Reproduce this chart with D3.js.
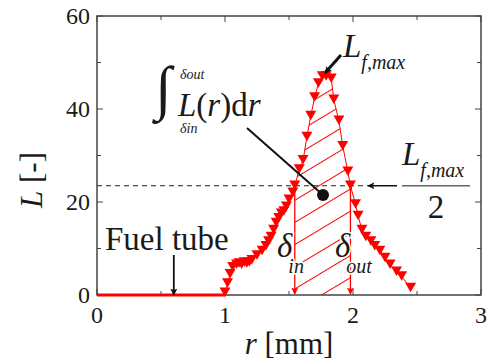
<!DOCTYPE html>
<html>
<head>
<meta charset="utf-8">
<script src="https://cdn.jsdelivr.net/npm/d3@7"></script>
<style>
    body { margin: 0; background: #fff; }
    svg text { font-family: "Liberation Serif", "DejaVu Serif", serif; fill: #1a1a1a; }
</style>
</head>
<body>
<svg id="chart" width="495" height="364"></svg>
<script>
"use strict";

// radial position r [mm] and normalised flame length L [-]
var rValues = [1.00, 1.02, 1.04, 1.06, 1.09, 1.11, 1.13, 1.15, 1.17, 1.19, 1.21, 1.25, 1.29, 1.32,
    1.34, 1.36, 1.38, 1.40, 1.42, 1.44, 1.46, 1.48, 1.50, 1.53, 1.545, 1.58, 1.61, 1.64, 1.67,
    1.70, 1.73, 1.76, 1.79, 1.83, 1.85, 1.89, 1.92, 1.96, 1.98, 2.02, 2.04, 2.07, 2.10, 2.14,
    2.17, 2.21, 2.25, 2.29, 2.34, 2.38, 2.45];
var lValues = [0.5, 2.5, 4.5, 6, 6.5, 6.8, 6.5, 7, 6.8, 7, 7.5, 8.5, 9.5, 10.5,
    11.5, 12.5, 14, 15.5, 16.5, 17.5, 18, 19, 20.5, 22, 23.5, 27, 29, 34, 38.5,
    42.5, 45.5, 47, 47, 46.5, 42, 37.5, 32, 26.5, 23.5, 19.5, 17, 14, 12.5, 11.5,
    10.5, 9.5, 8, 6.5, 5, 4, 1.5];
var fuelTubeR = [0, 1.0];
var xTicks = [0, 1, 2, 3];
var xMinorTicks = [0.5, 1.5, 2.5];
var yTicks = [0, 20, 40, 60];
var yMinorTicks = [10, 30, 50];
var lHalf = 23.5;
var deltaIn = 1.545;
var deltaOut = 1.98;
var fuelTubeArrowR = 0.6;

var svg = d3.select("#chart");
var x = d3.scaleLinear().domain([0, 3]).range([97, 481]);
var y = d3.scaleLinear().domain([0, 60]).range([295, 16]);

var points = rValues.map(function (r, i) { return [r, lValues[i]]; });

var defs = svg.append("defs");
function arrowHead(id, color) {
    defs.append("marker")
        .attr("id", id)
        .attr("viewBox", "0 0 10 10")
        .attr("refX", 9)
        .attr("refY", 5)
        .attr("markerWidth", 7)
        .attr("markerHeight", 7)
        .attr("markerUnits", "userSpaceOnUse")
        .attr("orient", "auto")
        .append("polyline")
            .attr("points", "0,0 10,5 0,10 2,5")
            .attr("fill", color)
    ;
}
arrowHead("arrowBlack", "#111");
arrowHead("arrowRed", "#ff0000");

defs.append("pattern")
    .attr("id", "hatch")
    .attr("patternUnits", "userSpaceOnUse")
    .attr("width", 20)
    .attr("height", 19)
    .attr("patternTransform", "rotate(-31)")
    .append("line")
        .attr("x1", 0).attr("y1", 0.5)
        .attr("x2", 20).attr("y2", 0.5)
        .attr("stroke", "#ff0000")
        .attr("stroke-width", 1)
;

// hatched integral region between delta_in and delta_out
var inside = points.filter(function (p) { return p[0] >= deltaIn && p[0] <= deltaOut; });
var region = [[deltaIn, 0]].concat(inside).concat([[deltaOut, 0]]);
svg.append("path")
    .attr("d", d3.line().x(function (d) { return x(d[0]); }).y(function (d) { return y(d[1]); })(region) + "Z")
    .attr("fill", "url(#hatch)")
;

// frame and ticks
var frame = svg.append("g").attr("stroke", "#444").attr("fill", "none");
frame.append("rect")
    .attr("x", x(0)).attr("y", y(60))
    .attr("width", x(3) - x(0)).attr("height", y(0) - y(60))
    .attr("stroke-width", 1.5)
;
xTicks.concat(xMinorTicks).forEach(function (t) {
    var len = xTicks.indexOf(t) >= 0 ? 6 : 4;
    frame.append("line").attr("x1", x(t)).attr("x2", x(t)).attr("y1", y(0)).attr("y2", y(0) - len);
    frame.append("line").attr("x1", x(t)).attr("x2", x(t)).attr("y1", y(60)).attr("y2", y(60) + len);
});
yTicks.concat(yMinorTicks).forEach(function (t) {
    var len = yTicks.indexOf(t) >= 0 ? 6 : 4;
    frame.append("line").attr("y1", y(t)).attr("y2", y(t)).attr("x1", x(0)).attr("x2", x(0) + len);
    frame.append("line").attr("y1", y(t)).attr("y2", y(t)).attr("x1", x(3)).attr("x2", x(3) - len);
});

svg.selectAll(".xLabel").data(xTicks).enter().append("text")
    .attr("class", "xLabel")
    .attr("x", function (d) { return x(d); })
    .attr("y", 323)
    .attr("text-anchor", "middle")
    .style("font-size", "24px")
    .text(function (d) { return d; })
;
svg.selectAll(".yLabel").data(yTicks).enter().append("text")
    .attr("class", "yLabel")
    .attr("x", 90)
    .attr("y", function (d) { return y(d) + 8; })
    .attr("text-anchor", "end")
    .style("font-size", "24px")
    .text(function (d) { return d; })
;

// axis titles
var xTitle = svg.append("text")
    .attr("x", 289).attr("y", 354)
    .attr("text-anchor", "middle")
    .style("font-size", "31px")
;
xTitle.append("tspan").style("font-style", "italic").text("r");
xTitle.append("tspan").text(" [mm]");

var yTitle = svg.append("text")
    .attr("transform", "translate(42,180)rotate(-90)")
    .attr("text-anchor", "middle")
    .style("font-size", "31px")
;
yTitle.append("tspan").style("font-style", "italic").text("L");
yTitle.append("tspan").text(" [-]");

// L_f,max / 2 dashed line
svg.append("line")
    .attr("x1", x(0)).attr("x2", 368)
    .attr("y1", y(lHalf)).attr("y2", y(lHalf))
    .attr("stroke", "#222").attr("stroke-width", 1.2)
    .attr("stroke-dasharray", "5,4")
;

// fuel tube line at L = 0
svg.append("line")
    .attr("x1", x(fuelTubeR[0])).attr("x2", x(fuelTubeR[1]))
    .attr("y1", y(0)).attr("y2", y(0))
    .attr("stroke", "#ff0000").attr("stroke-width", 3)
;

// measured profile
svg.append("path")
    .attr("d", d3.line().x(function (d) { return x(d[0]); }).y(function (d) { return y(d[1]); })(points))
    .attr("fill", "none")
    .attr("stroke", "#ff0000")
    .attr("stroke-width", 1)
;
svg.selectAll(".pt").data(points).enter().append("path")
    .attr("class", "pt")
    .attr("d", d3.symbol(d3.symbolTriangle, 52))
    .attr("transform", function (d) { return "translate(" + x(d[0]) + "," + (y(d[1]) - 2) + ")rotate(180)"; })
    .attr("fill", "#ff0000")
;

// delta_in / delta_out verticals
[deltaIn, deltaOut].forEach(function (d) {
    svg.append("line")
        .attr("x1", x(d)).attr("x2", x(d))
        .attr("y1", y(lHalf)).attr("y2", y(0) - 1)
        .attr("stroke", "#ff0000").attr("stroke-width", 1.3)
        .attr("marker-end", "url(#arrowRed)")
    ;
});

function deltaLabel(xPos, sub) {
    var t = svg.append("text")
        .attr("x", xPos).attr("y", 257)
        .style("font-style", "italic")
        .style("font-size", "33px")
        .attr("stroke", "#fff").attr("stroke-width", 3)
        .attr("paint-order", "stroke")
    ;
    t.append("tspan").text("\u03b4");
    t.append("tspan").attr("dy", 16).attr("dx", -4).style("font-size", "20px").text(sub);
}
deltaLabel(277, "in");
deltaLabel(335, "out");

// fuel tube annotation
svg.append("text")
    .attr("x", 105).attr("y", 250)
    .style("font-size", "33px")
    .text("Fuel tube")
;
svg.append("line")
    .attr("x1", x(fuelTubeArrowR)).attr("x2", x(fuelTubeArrowR))
    .attr("y1", 255).attr("y2", y(0))
    .attr("stroke", "#111").attr("stroke-width", 1.8)
    .attr("marker-end", "url(#arrowBlack)")
;

// integral annotation
svg.append("text")
    .attr("transform", "translate(155,108)scale(1.15,1.15)")
    .style("font-size", "52px")
    .text("\u222b")
;
svg.append("text")
    .attr("x", 180).attr("y", 79)
    .style("font-style", "italic").style("font-size", "14px")
    .text("\u03b4out")
;
svg.append("text")
    .attr("x", 180).attr("y", 133)
    .style("font-style", "italic").style("font-size", "14px")
    .text("\u03b4in")
;
var integral = svg.append("text")
    .attr("x", 178).attr("y", 116)
    .style("font-size", "33px")
;
integral.append("tspan").style("font-style", "italic").text("L");
integral.append("tspan").text("(");
integral.append("tspan").style("font-style", "italic").text("r");
integral.append("tspan").text(")d");
integral.append("tspan").style("font-style", "italic").text("r");

svg.append("line")
    .attr("x1", 247).attr("y1", 128)
    .attr("x2", 323).attr("y2", 195)
    .attr("stroke", "#111").attr("stroke-width", 2)
;
svg.append("circle")
    .attr("cx", 323).attr("cy", 195).attr("r", 6)
    .attr("fill", "#111")
;

// L_f,max annotation at the peak
svg.append("line")
    .attr("x1", 341).attr("y1", 55)
    .attr("x2", 325).attr("y2", 73)
    .attr("stroke", "#111").attr("stroke-width", 3)
    .attr("marker-end", "url(#arrowBlack)")
;
var peak = svg.append("text")
    .attr("x", 343).attr("y", 57)
    .style("font-style", "italic")
    .style("font-size", "33px")
;
peak.append("tspan").text("L");
peak.append("tspan").attr("dy", 12).style("font-size", "20px").text("f,max");

// L_f,max / 2 fraction at the right
svg.append("line")
    .attr("x1", 397).attr("x2", 368)
    .attr("y1", y(lHalf)).attr("y2", y(lHalf))
    .attr("stroke", "#111").attr("stroke-width", 1.5)
    .attr("marker-end", "url(#arrowBlack)")
;
var num = svg.append("text")
    .attr("x", 402).attr("y", 165)
    .style("font-style", "italic")
    .style("font-size", "33px")
;
num.append("tspan").text("L");
num.append("tspan").attr("dy", 12).style("font-size", "20px").text("f,max");
svg.append("line")
    .attr("x1", 402).attr("x2", 470)
    .attr("y1", y(lHalf)).attr("y2", y(lHalf))
    .attr("stroke", "#666").attr("stroke-width", 1.5)
;
svg.append("text")
    .attr("x", 436).attr("y", 218)
    .attr("text-anchor", "middle")
    .style("font-size", "33px")
    .text("2")
;
</script>
</body>
</html>
